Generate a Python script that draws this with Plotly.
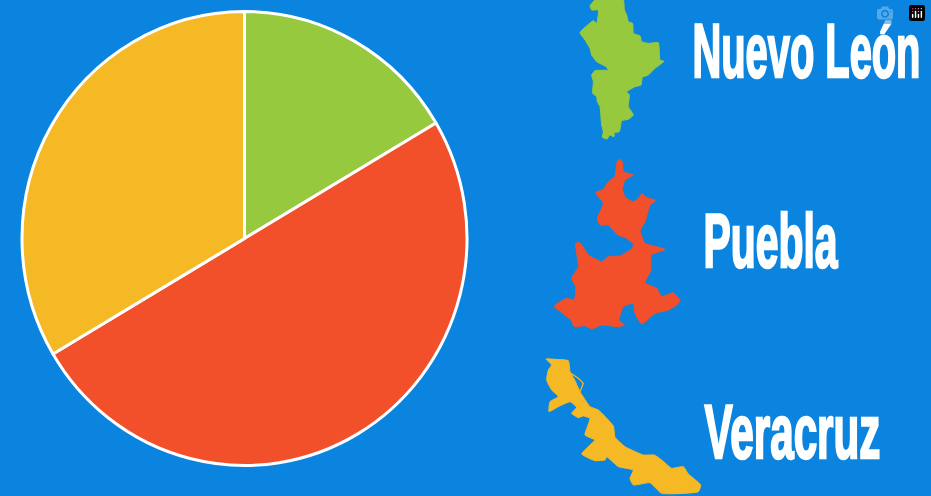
import plotly.graph_objects as go

states = ["Nuevo León", "Puebla", "Veracruz"]
shares = [16.5, 50, 33.5]
colors = ["#96c93d", "#f2502a", "#f6b926"]
background = "#0a84de"

nuevo_leon = [(75,0),(160,0),(163,30),(170,45),(175,65),(188,70),(190,100),(210,108),(215,125),(235,130),(265,128),(270,180),(282,184),(255,205),(235,225),(217,232),(213,255),(195,260),(170,275),(178,285),(175,320),(190,345),(175,358),(155,362),(148,395),(133,398),(132,410),(118,405),(112,417),(97,412),(100,395),(95,375),(90,320),(82,305),(80,290),(68,280),(70,245),(65,225),(75,212),(115,210),(108,200),(80,185),(65,165),(60,145),(45,120),(30,98),(70,62),(80,70),(85,30),(65,30),(60,18)]
puebla = [(222,28),(232,35),(235,65),(265,75),(240,90),(232,118),(240,140),(262,155),(275,150),(292,130),(300,140),(332,152),(315,165),(300,215),(285,243),(300,280),(360,298),(318,315),(318,360),(300,398),(335,415),(350,440),(385,428),(405,452),(395,465),(370,480),(330,490),(290,522),(270,490),(265,460),(235,470),(222,510),(238,525),(220,530),(170,525),(140,537),(120,527),(88,530),(78,510),(28,468),(65,445),(88,450),(92,410),(80,385),(100,350),(92,280),(105,278),(130,315),(170,335),(190,320),(225,318),(262,295),(265,282),(240,262),(218,255),(190,225),(165,225),(157,205),(175,160),(152,128),(175,118),(190,95),(210,80),(215,40)]
veracruz = [(33,27),(60,28),(100,32),(105,65),(120,92),(135,125),(165,170),(190,180),(235,228),(240,262),(270,290),(325,315),(358,315),(380,330),(410,355),(445,350),(460,372),(497,405),(490,425),(380,430),(345,398),(295,405),(285,385),(295,360),(250,350),(215,320),(210,330),(180,332),(140,312),(165,285),(180,270),(150,255),(165,205),(145,198),(130,203),(110,190),(125,172),(105,155),(70,170),(42,185),(45,155),(70,140),(50,120),(35,90),(40,60),(50,45)]
veracruz_lagoon = [(105,68),(130,85),(145,100),(135,125)]
crop_origins = [(570, 0), (545, 150), (535, 350)]
outlines = [nuevo_leon, puebla, veracruz]

label_x = [806, 771, 792]
label_y = [50, 240, 431]
label_widths = [228, 134, 176]


def unzoom(points, origin):
    return ([origin[0] + p[0] / 3 for p in points] + [origin[0] + points[0][0] / 3],
            [origin[1] + p[1] / 3 for p in points] + [origin[1] + points[0][1] / 3])


fig = go.Figure()
for name, pts, origin, color in zip(states, outlines, crop_origins, colors):
    xs, ys = unzoom(pts, origin)
    fig.add_trace(go.Scatter(x=xs, y=ys, mode="lines", fill="toself", fillcolor=color,
                             line=dict(color=color, width=1, shape="spline", smoothing=0.4),
                             hoverinfo="skip", name=name))
xs, ys = unzoom(veracruz_lagoon, crop_origins[2])
fig.add_trace(go.Scatter(x=xs[:-1], y=ys[:-1], mode="lines", line=dict(color=colors[2], width=1.2),
                         hoverinfo="skip"))

W, H = 931, 496
cx, cy, r = 244.5, 238.5, 222.5
fig.add_trace(go.Pie(labels=states, values=shares, sort=False, direction="clockwise", rotation=0,
                     marker=dict(colors=colors, line=dict(color="white", width=3)),
                     textinfo="none", hoverinfo="label+percent",
                     domain=dict(x=[(cx - r) / W, (cx + r) / W], y=[1 - (cy + r) / H, 1 - (cy - r) / H])))

for s, x, y in zip(states, label_x, label_y):
    fig.add_annotation(x=x, y=y, text=s, showarrow=False, xref="x", yref="y",
                       font=dict(family="Liberation Sans Narrow, Liberation Sans", size=76, color="white", weight="bold"))

fig.update_layout(width=W, height=H, margin=dict(l=0, r=0, t=0, b=0), showlegend=False,
                  paper_bgcolor=background, plot_bgcolor=background,
                  xaxis=dict(range=[0, W], visible=False, fixedrange=True),
                  yaxis=dict(range=[H, 0], visible=False, fixedrange=True))

post = """
var gd = document.querySelector('.js-plotly-plot');
var widths = %s;
gd.querySelectorAll('.annotation-text').forEach(function (t, i) {
  t.setAttribute('textLength', widths[i]);
  t.setAttribute('lengthAdjust', 'spacingAndGlyphs');
  t.style.stroke = 'white';
  t.style.strokeWidth = '2.5px';
});
var p = gd.querySelector('.pielayer');
if (p) p.setAttribute('transform', 'translate(0,%s) scale(1,1.02) translate(0,-%s)');
document.body.style.margin = '0';
document.body.style.background = '%s';
""" % (label_widths, cy, cy, background)

fig.write_html("out.html", post_script=post)
